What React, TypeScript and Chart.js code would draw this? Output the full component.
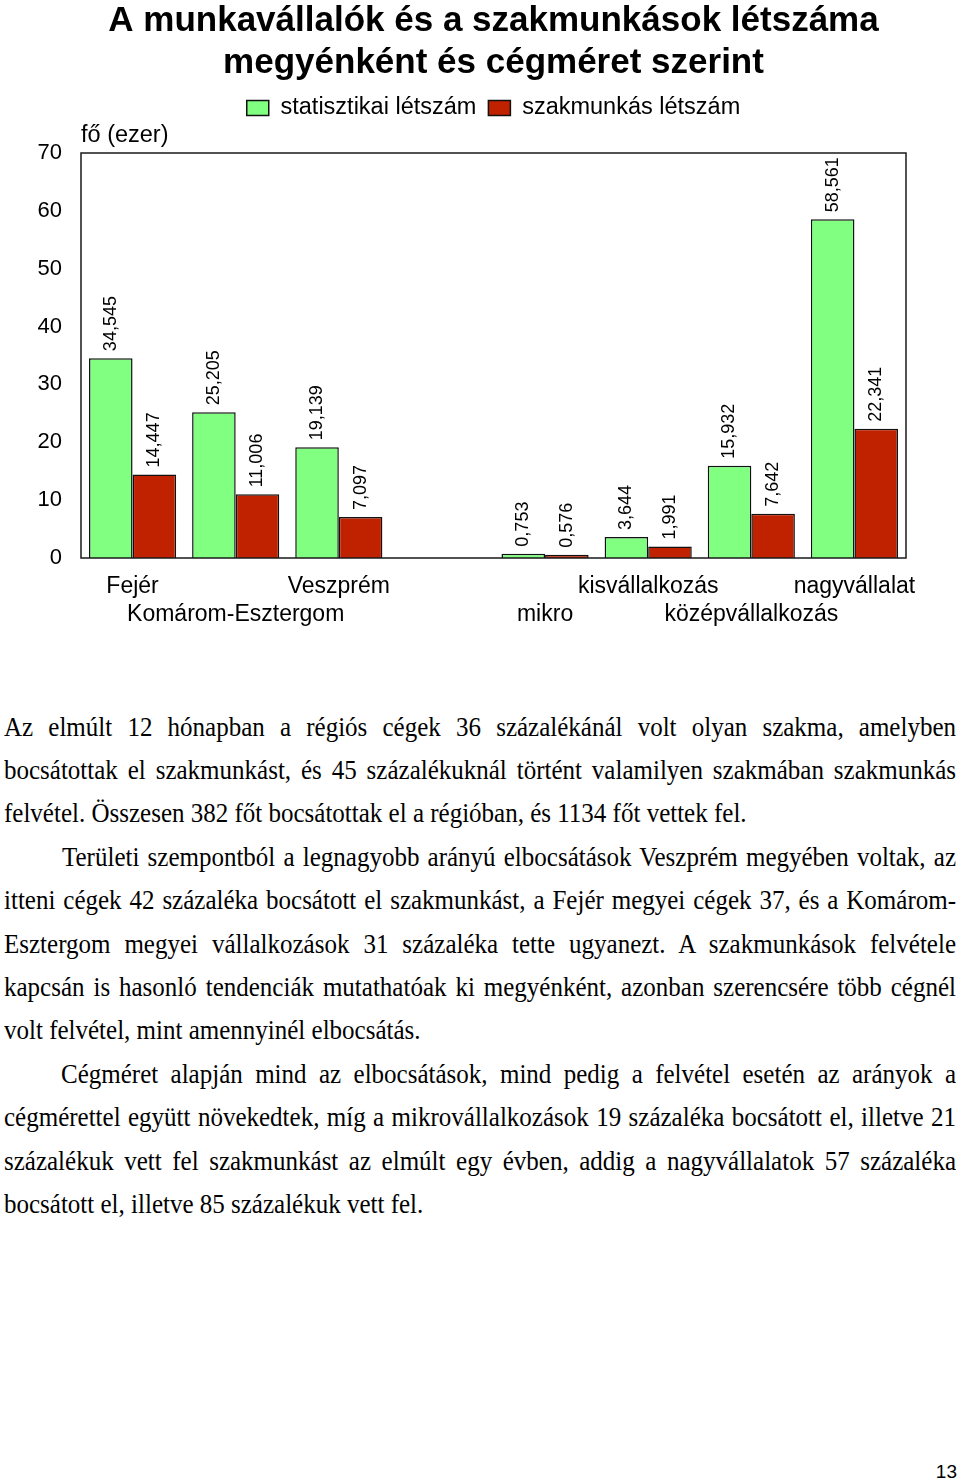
import React, { useEffect, useRef } from 'react';
import { Chart, registerables } from 'chart.js';

Chart.register(...registerables);

const SANS = '"Liberation Sans", Arial, sans-serif';
const SERIF = '"Liberation Serif", "Times New Roman", serif';

const titleLines = ['A munkavállalók és a szakmunkások létszáma', 'megyénként és cégméret szerint'];
const axisCaption = 'fő (ezer)';
const categories = ['Fejér', 'Komárom-Esztergom', 'Veszprém', '', 'mikro', 'kisvállalkozás', 'középvállalkozás', 'nagyvállalat'];
const labelRows = [0, 1, 0, 0, 1, 0, 1, 0];
const seriesNames = ['statisztikai létszám', 'szakmunkás létszám'];
const statisztikaiLetszam = [34.545, 25.205, 19.139, null, 0.753, 3.644, 15.932, 58.561];
const szakmunkasLetszam = [14.447, 11.006, 7.097, null, 0.576, 1.991, 7.642, 22.341];
const yMin = 0;
const yMax = 70;
const yStep = 10;

const paragraphs: string[][] = [
  [
    'Az elmúlt 12 hónapban a régiós cégek 36 százalékánál volt olyan szakma, amelyben',
    'bocsátottak el szakmunkást, és 45 százalékuknál történt valamilyen szakmában szakmunkás',
    'felvétel. Összesen 382 főt bocsátottak el a régióban, és 1134 főt vettek fel.',
  ],
  [
    'Területi szempontból a legnagyobb arányú elbocsátások Veszprém megyében voltak, az',
    'itteni cégek 42 százaléka bocsátott el szakmunkást, a Fejér megyei cégek 37, és a Komárom-',
    'Esztergom megyei vállalkozások 31 százaléka tette ugyanezt. A szakmunkások felvétele',
    'kapcsán is hasonló tendenciák mutathatóak ki megyénként, azonban szerencsére több cégnél',
    'volt felvétel, mint amennyinél elbocsátás.',
  ],
  [
    'Cégméret alapján mind az elbocsátások, mind pedig a felvétel esetén az arányok a',
    'cégmérettel együtt növekedtek, míg a mikrovállalkozások 19 százaléka bocsátott el, illetve 21',
    'százalékuk vett fel szakmunkást az elmúlt egy évben, addig a nagyvállalatok 57 százaléka',
    'bocsátott el, illetve 85 százalékuk vett fel.',
  ],
];
const paragraphIndent = [0, 58, 57];
const pageNumber = '13';

const fmt = (v: number) => v.toFixed(3).replace('.', ',');

const frameAndLabels = {
  id: 'frameAndLabels',
  afterDatasetsDraw(chart: any) {
    const { ctx, chartArea } = chart;
    ctx.save();
    ctx.strokeStyle = '#1a1a1a';
    ctx.lineWidth = 1.5;
    ctx.strokeRect(chartArea.left, chartArea.top, chartArea.right - chartArea.left, chartArea.bottom - chartArea.top);
    ctx.fillStyle = '#000';
    ctx.font = `18px ${SANS}`;
    ctx.textAlign = 'left';
    ctx.textBaseline = 'middle';
    chart.data.datasets.forEach((ds: any, i: number) => {
      const meta = chart.getDatasetMeta(i);
      meta.data.forEach((bar: any, j: number) => {
        const v = ds.data[j];
        if (v == null) return;
        ctx.save();
        ctx.translate(bar.x, bar.y - 7);
        ctx.rotate(-Math.PI / 2);
        ctx.fillText(fmt(v), 0, 0);
        ctx.restore();
      });
    });
    ctx.restore();
  },
};

function BarChart() {
  const ref = useRef<HTMLCanvasElement | null>(null);
  useEffect(() => {
    if (!ref.current) return;
    const chart = new Chart(ref.current, {
      type: 'bar',
      data: {
        labels: categories,
        datasets: [
          {
            label: seriesNames[0],
            data: statisztikaiLetszam,
            backgroundColor: '#80FF80',
            borderColor: '#111',
            borderWidth: 1.5,
            categoryPercentage: 0.845,
            barPercentage: 1.0,
          },
          {
            label: seriesNames[1],
            data: szakmunkasLetszam,
            backgroundColor: '#C02200',
            borderColor: '#111',
            borderWidth: 1.5,
            categoryPercentage: 0.845,
            barPercentage: 1.0,
          },
        ],
      },
      options: {
        responsive: false,
        animation: false,
        devicePixelRatio: 1,
        layout: { padding: { top: 0, left: 0, right: 54, bottom: 0 } },
        plugins: {
          title: {
            display: true,
            text: titleLines,
            fullSize: false,
            color: '#000',
            font: { family: SANS, size: 35, weight: 'bold', lineHeight: 42 / 35 },
            padding: { top: 0, bottom: 0.25 },
          },
          legend: {
            display: true,
            fullSize: false,
            labels: {
              color: '#000',
              font: { family: SANS, size: 23.5 },
              boxWidth: 22,
              boxHeight: 15,
              padding: 12,
            },
          },
          subtitle: {
            display: true,
            text: axisCaption,
            align: 'start',
            fullSize: false,
            weight: 500,
            color: '#000',
            font: { family: SANS, size: 23.5, lineHeight: 1 },
            padding: { top: -5.5, bottom: 5.25 },
          },
          tooltip: { enabled: false },
        },
        scales: {
          x: {
            grid: { display: false, drawTicks: false },
            border: { display: false },
            ticks: {
              autoSkip: false,
              maxRotation: 0,
              minRotation: 0,
              padding: 15,
              color: '#000',
              font: { family: SANS, size: 23, lineHeight: 28 / 23 },
              callback: (_v: any, i: number) => (labelRows[i] === 1 ? ['', categories[i]] : [categories[i]]),
            },
            afterFit: (s: any) => {
              s.height = 82;
            },
          },
          y: {
            min: yMin,
            max: yMax,
            grid: { display: false, drawTicks: false },
            border: { display: false },
            ticks: {
              stepSize: yStep,
              padding: 19,
              color: '#000',
              font: { family: SANS, size: 22 },
            },
            afterFit: (s: any) => {
              s.width = 81;
            },
          },
        },
      },
      plugins: [frameAndLabels],
    } as any);
    return () => chart.destroy();
  }, []);
  return (
    <canvas
      ref={ref}
      width={960}
      height={640}
      style={{ position: 'absolute', left: 0, top: 0, width: 960, height: 640 }}
    />
  );
}

export default function App() {
  const lineH = 43.4;
  let lineIndex = 0;
  const textTop = 705.5;
  return (
    <div style={{ position: 'absolute', left: 0, top: 0, width: 960, height: 1480, background: '#fff', overflow: 'hidden' }}>
      <BarChart />
      {paragraphs.map((lines, p) =>
        lines.map((line, k) => {
          const top = textTop + lineH * lineIndex++;
          const last = k === lines.length - 1;
          return (
            <div
              key={`${p}-${k}`}
              style={{
                position: 'absolute',
                left: 4,
                top,
                width: 952,
                height: lineH,
                lineHeight: `${lineH}px`,
                fontFamily: SERIF,
                fontSize: 25,
                color: '#000',
                textAlign: last ? 'left' : 'justify',
                textAlignLast: last ? 'left' : 'justify',
                textIndent: k === 0 ? paragraphIndent[p] : 0,
                transform: 'scaleY(1.1)',
                transformOrigin: '0 30px',
              } as any}
            >
              {line}
            </div>
          );
        })
      )}
      <div
        style={{
          position: 'absolute',
          right: 3,
          top: 1461,
          fontFamily: SANS,
          fontSize: 19,
          lineHeight: '22px',
          color: '#000',
        }}
      >
        {pageNumber}
      </div>
    </div>
  );
}
